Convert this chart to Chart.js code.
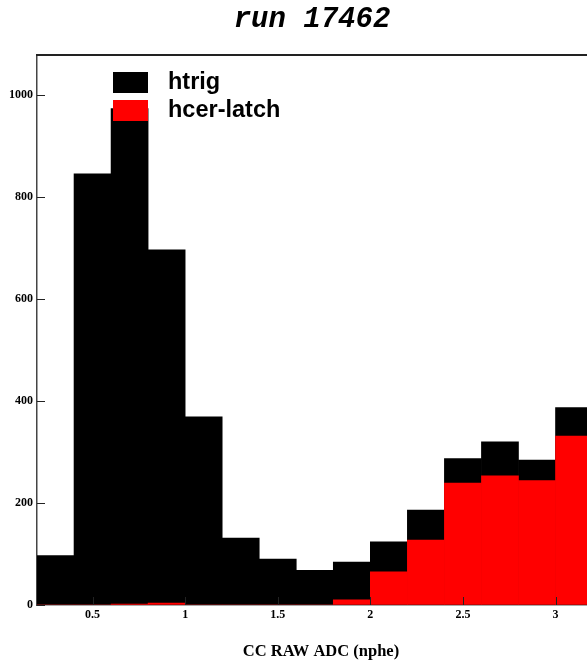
<!DOCTYPE html>
<html><head><meta charset="utf-8">
<script src="https://cdn.jsdelivr.net/npm/chart.js@4"></script>
<style>html,body{margin:0;padding:0;background:#fff;overflow:hidden;}</style>
</head><body>
<canvas id="c" width="587" height="662"></canvas>
<script>
const titleText = 'run 17462';
const xAxisTitle = 'CC RAW ADC (nphe)';
const binCenters = [0.3,0.5,0.7,0.9,1.1,1.3,1.5,1.7,1.9,2.1,2.3,2.5,2.7,2.9,3.1];
const htrigCounts = [97,845,973,696,369,131,90,68,84,124,186,287,320,284,387];
const hcerCounts  = [0,0,2,4,0,0,0,0,10,65,127,239,253,244,331];
const seriesLabels = ['htrig','hcer-latch'];
const seriesColors = ['#000000','#ff0000'];
const xTicks = [0.5,1,1.5,2,2.5,3];
const xTickLabels = ['0.5','1','1.5','2','2.5','3'];
const yTicks = [0,200,400,600,800,1000];
const yTickLabels = ['0','200','400','600','800','1000'];
const xRange = [0.2, 3.17];
const yRange = [0, 1078];

const toPoints = vals => vals.map((v,i)=>({x: binCenters[i], y: v}));

const decorPlugin = {
  id: 'decor',
  afterDatasetsDraw(chart){
    const {ctx, chartArea:a, scales:{x,y}} = chart;
    ctx.save();
    ctx.strokeStyle = '#222';
    ctx.lineWidth = 1;
    yTicks.forEach(v=>{
      const py = Math.round(y.getPixelForValue(v))+0.5;
      ctx.beginPath(); ctx.moveTo(a.left, py); ctx.lineTo(a.left+8, py); ctx.stroke();
    });
    xTicks.forEach(v=>{
      const px = Math.round(x.getPixelForValue(v))+0.5;
      ctx.beginPath(); ctx.moveTo(px, a.bottom); ctx.lineTo(px, a.bottom-8); ctx.stroke();
    });
    ctx.lineWidth = 2;
    ctx.strokeStyle = '#222';
    ctx.beginPath(); ctx.moveTo(a.left-1, a.top); ctx.lineTo(chart.width, a.top); ctx.stroke();
    ctx.restore();
  },
  afterDraw(chart){
    const {ctx} = chart;
    ctx.save();
    ctx.fillStyle = '#000';
    ctx.font = 'italic bold 29px "Liberation Mono"';
    ctx.textAlign = 'center';
    ctx.textBaseline = 'middle';
    ctx.fillText(titleText, 312, 20);
    ctx.font = 'bold 16.5px "Liberation Serif"';
    ctx.fillText(xAxisTitle, 321, 652);
    ctx.textAlign = 'left';
    ctx.font = 'bold 23.5px "Liberation Sans"';
    chart.data.datasets.forEach((ds,i)=>{
      const top = 72 + i*28;
      ctx.fillStyle = ds.backgroundColor;
      ctx.fillRect(113, top, 35, 21);
      ctx.fillStyle = '#000';
      ctx.fillText(ds.label, 168, top + 11);
    });
    ctx.restore();
  }
};

new Chart(document.getElementById('c'), {
  type: 'bar',
  data: {
    datasets: [
      {label: seriesLabels[0], data: toPoints(htrigCounts), backgroundColor: seriesColors[0], order: 2,
       grouped: false, barPercentage: 1, categoryPercentage: 1, borderWidth: 0},
      {label: seriesLabels[1], data: toPoints(hcerCounts), backgroundColor: seriesColors[1], order: 1,
       grouped: false, barPercentage: 1, categoryPercentage: 1, borderWidth: 0}
    ]
  },
  options: {
    responsive: false,
    animation: false,
    devicePixelRatio: 1,
    layout: {padding: {top: 55, left: 0, right: 0, bottom: 0}},
    plugins: {legend: {display: false}, title: {display: false}, tooltip: {enabled: false}},
    scales: {
      x: {
        type: 'linear', min: xRange[0], max: xRange[1], offset: false,
        afterBuildTicks: s => { s.ticks = xTicks.map(v=>({value:v})); },
        afterFit: s => { s.height = 57; },
        grid: {display: true, drawOnChartArea: false, drawTicks: false},
        border: {display: true, color: '#555', width: 1.5},
        ticks: {autoSkip: false, maxRotation: 0, padding: 3, color: '#000',
          font: {family: '"Liberation Serif"', weight: 'bold', size: 12},
          callback: (v, i) => xTickLabels[i]},
        title: {display: false}
      },
      y: {
        type: 'linear', min: yRange[0], max: yRange[1],
        afterBuildTicks: s => { s.ticks = yTicks.map(v=>({value:v})); },
        afterFit: s => { s.width = 37; },
        grid: {display: true, drawOnChartArea: false, drawTicks: false},
        border: {display: true, color: '#444', width: 1.5},
        ticks: {autoSkip: false, padding: 4, color: '#000',
          font: {family: '"Liberation Serif"', weight: 'bold', size: 12},
          callback: (v, i) => yTickLabels[i]}
      }
    }
  },
  plugins: [decorPlugin]
});
</script>
</body></html>
